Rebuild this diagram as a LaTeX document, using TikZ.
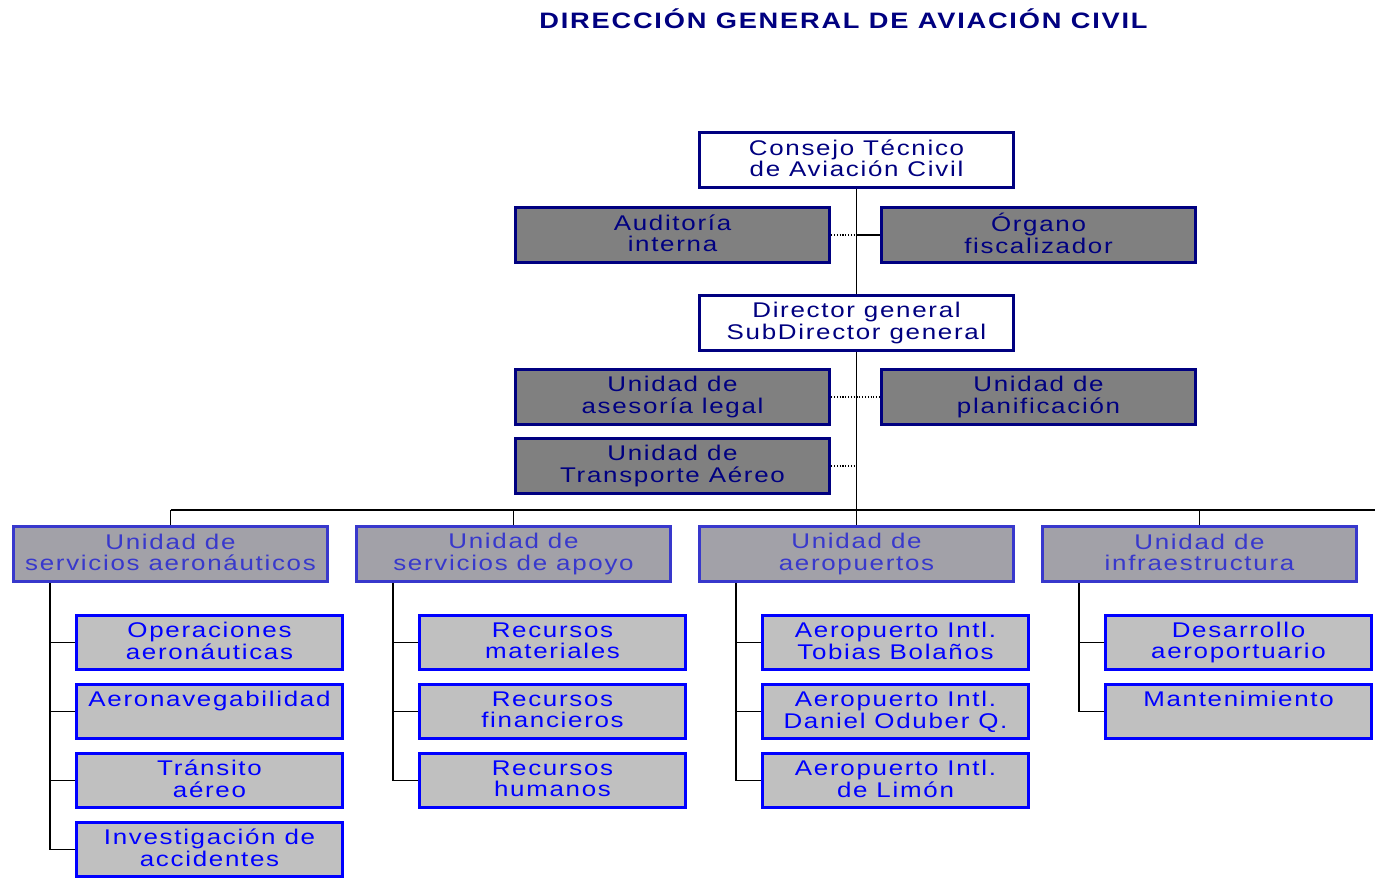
\documentclass[tikz,border=0pt]{standalone}
\usepackage{fontspec}
\setmainfont[FakeStretch=1.22,LetterSpace=8]{Liberation Sans}
\definecolor{navyc}{RGB}{0,0,128}
\definecolor{staffgray}{RGB}{128,128,128}
\definecolor{unitgray}{RGB}{162,161,168}
\definecolor{unitblue}{RGB}{56,56,204}
\definecolor{sectgray}{RGB}{192,192,192}
\definecolor{sectblue}{RGB}{0,0,255}

\begin{document}
\begin{tikzpicture} [x=0.02cm,y=-0.02cm,{chief/.style={rectangle,draw=navyc,fill=white,line width=2pt,text=navyc,align=center,minimum width=6.28cm,minimum height=1.1cm,inner sep=0pt,font=\fontsize{12.1}{12.4}\selectfont,execute at begin node=\rule{0pt}{10.4pt},execute at end node=\rule[-2pt]{0pt}{2pt}}},{staff/.style={chief,fill=staffgray}},{unit/.style={chief,draw=unitblue,fill=unitgray,text=unitblue,line width=2.2pt}},{sect/.style={chief,draw=sectblue,fill=sectgray,text=sectblue,line width=2.2pt,minimum width=5.32cm,minimum height=1.08cm}},{conn/.style={black,line width=1pt}},{staffconn/.style={black,line width=0.6pt,densely dotted}}]
		\useasboundingbox (0,0) rectangle (1375,877);
		%%title
		\node at (843.5,19) [text=navyc,font=\fontsize{12.7}{13}\selectfont\bfseries] (title) {DIRECCIÓN GENERAL DE AVIACIÓN CIVIL};
		%%top boxes
		\node at (856.5,160) [chief] (consejo) {Consejo Técnico\\de Aviación Civil};
		\node at (672.5,235) [staff] (auditoria) {Auditoría\\interna};
		\node at (1038.5,235) [staff] (organo) {Órgano\\fiscalizador};
		\node at (856.5,323) [chief] (director) {Director general\\SubDirector general};
		\node at (672.5,397) [staff] (asesoria) {Unidad de\\asesoría legal};
		\node at (1038.5,397) [staff] (planif) {Unidad de\\planificación};
		\node at (672.5,466) [staff] (transp) {Unidad de\\Transporte Aéreo};
		%%units
		\node at (170.5,554) [unit] (ua) {Unidad de\\servicios aeronáuticos};
		\node at (513.5,554) [unit] (ub) {Unidad de\\servicios de apoyo};
		\node at (856.5,554) [unit] (uc) {Unidad de\\aeropuertos};
		\node at (1199.5,554) [unit] (ud) {Unidad de\\infraestructura};
		%%sections
		\node at (209.5,642.5) [sect] (a1) {Operaciones\\aeronáuticas};
		\node at (209.5,711.5) [sect] (a2) {Aeronavegabilidad\\\mbox{}};
		\node at (209.5,780.5) [sect] (a3) {Tránsito\\aéreo};
		\node at (209.5,849.5) [sect] (a4) {Investigación de\\accidentes};
		\node at (552.5,642.5) [sect] (b1) {Recursos\\materiales};
		\node at (552.5,711.5) [sect] (b2) {Recursos\\financieros};
		\node at (552.5,780.5) [sect] (b3) {Recursos\\humanos};
		\node at (895.5,642.5) [sect] (c1) {Aeropuerto Intl.\\Tobias Bolaños};
		\node at (895.5,711.5) [sect] (c2) {Aeropuerto Intl.\\Daniel Oduber Q.};
		\node at (895.5,780.5) [sect] (c3) {Aeropuerto Intl.\\de Limón};
		\node at (1238.5,642.5) [sect] (d1) {Desarrollo\\aeroportuario};
		\node at (1238.5,711.5) [sect] (d2) {Mantenimiento\\\mbox{}};
		%%main line
		\draw [conn] (consejo) -- (director);
		\draw [conn] (director) -- (uc);
		\draw [staffconn] (auditoria.east) -- (auditoria.east -| consejo.south);
		\draw [conn] (organo.west) -- (organo.west -| consejo.south);
		\draw [staffconn] (asesoria.east) -- (planif.west);
		\draw [staffconn] (transp.east) -- (transp.east -| director.south);
		%%bus
		\coordinate (busl) at (170.5,510);
		\coordinate (busr) at (1380,510);
		\draw [conn] (busl) -- (busr);
		\foreach \u in {ua,ub,ud} \draw [conn] (\u.north) -- (\u.north |- busl);
		%%spines
		\foreach \c/\n/\x in {a/4/50,b/3/393,c/3/736,d/2/1079}{
			\coordinate (sp\c) at (\x,0);
			\draw [conn] (u\c.south -| sp\c) -- (sp\c |- \c\n.west) -- (\c\n.west);
			\foreach \k in {1,...,\n} \draw [conn] (sp\c |- \c\k.west) -- (\c\k.west);
		}
	\end{tikzpicture}
\end{document}
